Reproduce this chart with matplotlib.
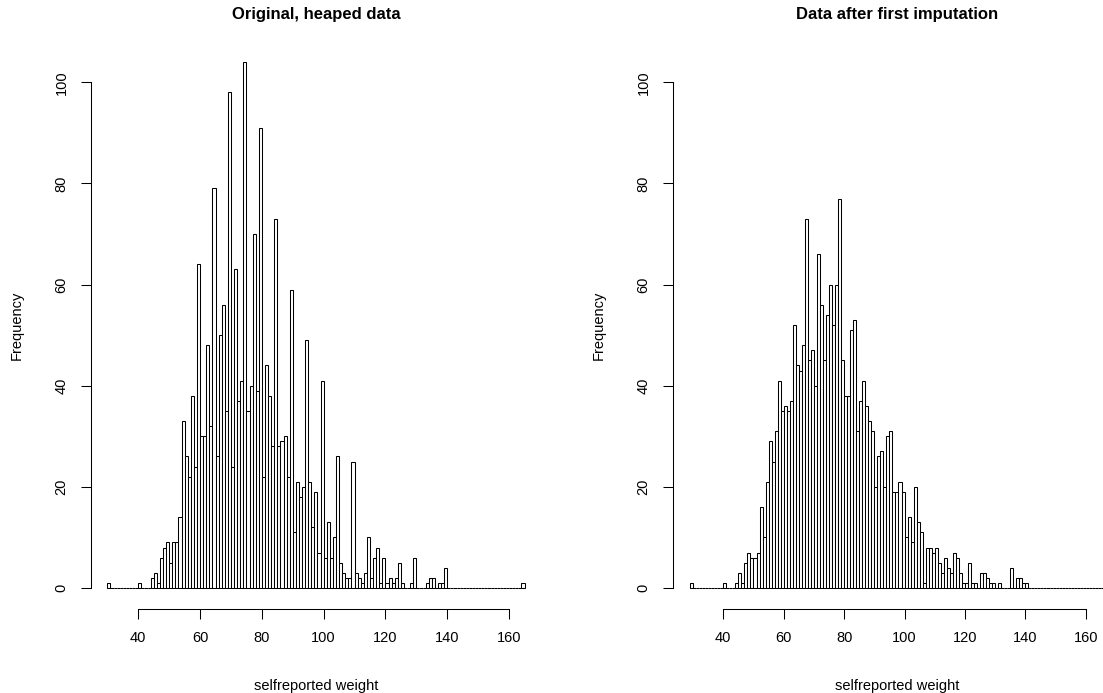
#!/usr/bin/env python3

import matplotlib
matplotlib.use('Agg')
import matplotlib.pyplot as plt

# bin counts, one unit wide bins
heaped_start = 30
heaped_counts = [
    1, 0, 0, 0, 0, 0, 0, 0, 0, 0,            # 30-39
    1, 0, 0, 0, 2, 3, 1, 6, 8, 9,            # 40-49
    5, 9, 9, 14, 33, 26, 22, 38, 24, 64,     # 50-59
    30, 30, 48, 32, 79, 26, 50, 56, 35, 98,  # 60-69
    24, 63, 37, 41, 104, 35, 40, 70, 39, 91, # 70-79
    22, 44, 38, 28, 73, 28, 29, 30, 22, 59,  # 80-89
    11, 21, 18, 20, 49, 21, 12, 19, 7, 41,   # 90-99
    6, 13, 6, 10, 26, 5, 3, 2, 2, 25,        # 100-109
    3, 2, 1, 3, 10, 2, 6, 8, 1, 6,           # 110-119
    1, 2, 1, 2, 5, 1, 0, 0, 1, 6,            # 120-129
    0, 0, 0, 1, 2, 2, 0, 1, 1, 4,            # 130-139
    0, 0, 0, 0, 0, 0, 0, 0, 0, 0,            # 140-149
    0, 0, 0, 0, 0, 0, 0, 0, 0, 0,            # 150-159
    0, 0, 0, 0, 1,                           # 160-164
]

imputed_start = 29
imputed_counts = [
    1,                                       # 29
    0, 0, 0, 0, 0, 0, 0, 0, 0, 0,            # 30-39
    1, 0, 0, 0, 1, 3, 1, 5, 7, 6,            # 40-49
    6, 7, 16, 10, 21, 29, 25, 31, 41, 35,    # 50-59
    36, 35, 37, 52, 44, 43, 48, 73, 45, 47,  # 60-69
    40, 66, 56, 45, 54, 60, 52, 60, 77, 45,  # 70-79
    38, 38, 51, 53, 31, 37, 41, 36, 33, 31,  # 80-89
    20, 26, 27, 20, 30, 31, 19, 19, 21, 19,  # 90-99
    10, 14, 9, 20, 13, 11, 1, 8, 8, 7,       # 100-109
    8, 5, 3, 6, 4, 3, 7, 6, 3, 1,            # 110-119
    1, 5, 1, 1, 0, 3, 3, 2, 1, 1,            # 120-129
    0, 1, 0, 0, 0, 4, 0, 2, 2, 1,            # 130-139
    1, 0, 0, 0, 0, 0, 0, 0, 0, 0,            # 140-149
    0, 0, 0, 0, 0, 0, 0, 0, 0, 0,            # 150-159
    0, 0, 0, 0, 0, 0,                        # 160-165
]

titles = ['Original, heaped data', 'Data after first imputation']
xlabel = 'selfreported weight'
ylabel = 'Frequency'
xticks = [40, 60, 80, 100, 120, 140, 160]
yticks = [0, 20, 40, 60, 80, 100]


def draw(ax, start, counts, title, xlim):
    edges = [start + i for i in range(len(counts))]
    ax.bar(edges, counts, width=1, align='edge', facecolor='white',
           edgecolor='black', linewidth=0.75)
    ax.set_xlim(*xlim)
    ax.set_ylim(-4.16, 108.16)
    for s in ['top', 'right']:
        ax.spines[s].set_visible(False)
    ax.spines['left'].set_bounds(0, 100)
    ax.spines['bottom'].set_bounds(40, 160)
    for s in ['left', 'bottom']:
        ax.spines[s].set_linewidth(0.75)
    ax.set_xticks(xticks)
    ax.set_yticks(yticks)
    ax.tick_params(length=7, width=0.75, labelsize=10.5, pad=9)
    for lab in ax.get_yticklabels():
        lab.set_rotation(90)
        lab.set_va('center')
    ax.set_title(title, fontsize=12, fontweight='bold', pad=16)
    ax.set_xlabel(xlabel, fontsize=10.5)
    ax.set_ylabel(ylabel, fontsize=10.5)
    ax.xaxis.set_label_coords(0.5, -0.123)
    ax.yaxis.set_label_coords(-0.148, 0.5)


def main():
    plt.rcParams['font.family'] = ['Liberation Sans', 'DejaVu Sans']
    fig = plt.figure(figsize=(11.03, 6.93), dpi=100)
    W, H = 1103.0, 693.0
    bottom = (H - 609) / H
    height = 568 / H
    ax1 = fig.add_axes([90.7 / W, bottom, 450.5 / W, height])
    ax2 = fig.add_axes([672.7 / W, bottom, 449.3 / W, height])
    draw(ax1, heaped_start, heaped_counts, titles[0], (24.6, 170.4))
    draw(ax2, imputed_start, imputed_counts, titles[1], (23.25, 172.0))
    fig.savefig('out.png', dpi=100)


if __name__ == '__main__':
    main()
